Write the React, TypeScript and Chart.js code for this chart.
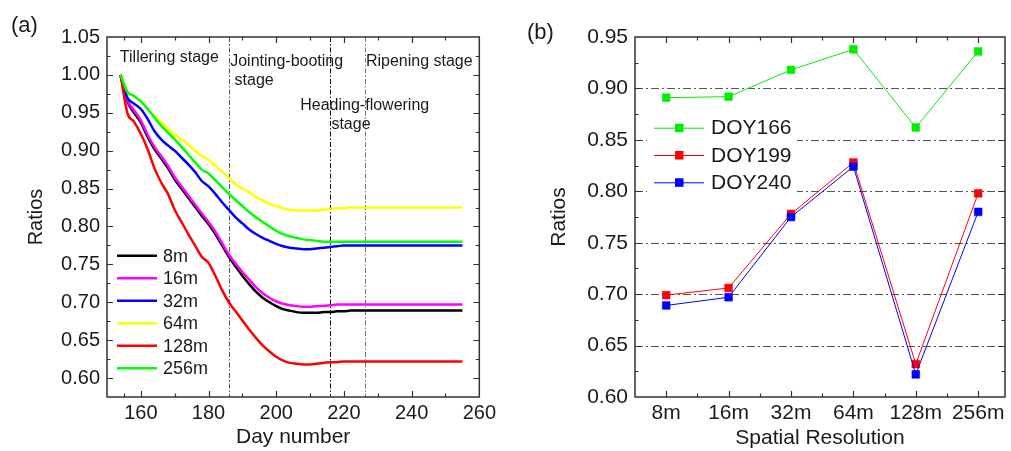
import React, { useEffect, useRef } from 'react';
import { Chart, registerables } from 'chart.js';

Chart.register(...registerables);

const FONT = "'Liberation Sans', Arial, Helvetica, sans-serif";
const INK = '#1a1a1a';

// ---------- Panel (a) data ----------
const dayNumbers = [154, 156, 158, 160, 162, 164, 166, 168, 170, 172, 174, 176, 178, 180, 182, 184, 186, 188, 190, 192, 194, 196, 198, 200, 202, 204, 206, 208, 210, 212, 214, 216, 218, 220, 222, 226, 235, 245, 255];
const ratio8m = [1.0, 0.965, 0.95, 0.937, 0.918, 0.902, 0.89, 0.877, 0.862, 0.85, 0.838, 0.826, 0.814, 0.803, 0.79, 0.775, 0.76, 0.747, 0.735, 0.724, 0.714, 0.706, 0.7, 0.695, 0.691, 0.689, 0.687, 0.686, 0.686, 0.686, 0.687, 0.687, 0.688, 0.688, 0.689, 0.689, 0.689, 0.689, 0.689];
const ratio16m = [1.0, 0.967, 0.953, 0.94, 0.921, 0.905, 0.893, 0.88, 0.865, 0.853, 0.841, 0.829, 0.817, 0.806, 0.793, 0.778, 0.763, 0.751, 0.74, 0.73, 0.72, 0.712, 0.706, 0.701, 0.698, 0.696, 0.695, 0.694, 0.694, 0.695, 0.695, 0.696, 0.697, 0.697, 0.697, 0.697, 0.697, 0.697, 0.697];
const ratio32m = [1.0, 0.97, 0.962, 0.955, 0.942, 0.926, 0.915, 0.907, 0.9, 0.891, 0.882, 0.872, 0.86, 0.853, 0.843, 0.832, 0.822, 0.812, 0.804, 0.796, 0.79, 0.785, 0.781, 0.777, 0.774, 0.772, 0.771, 0.77, 0.77, 0.771, 0.772, 0.773, 0.774, 0.775, 0.775, 0.775, 0.775, 0.775, 0.775];
const ratio64m = [1.0, 0.978, 0.972, 0.965, 0.955, 0.946, 0.937, 0.929, 0.921, 0.915, 0.908, 0.9, 0.893, 0.888, 0.88, 0.872, 0.864, 0.856, 0.85, 0.845, 0.839, 0.834, 0.83, 0.827, 0.824, 0.822, 0.821, 0.821, 0.821, 0.821, 0.822, 0.823, 0.824, 0.824, 0.825, 0.825, 0.825, 0.825, 0.825];
const ratio128m = [1.0, 0.95, 0.938, 0.922, 0.902, 0.877, 0.858, 0.843, 0.822, 0.806, 0.79, 0.775, 0.76, 0.752, 0.735, 0.716, 0.7, 0.688, 0.676, 0.664, 0.653, 0.643, 0.635, 0.628, 0.623, 0.62, 0.619, 0.618, 0.618, 0.619, 0.62, 0.621, 0.621, 0.622, 0.622, 0.622, 0.622, 0.622, 0.622];
const ratio256m = [1.0, 0.978, 0.972, 0.965, 0.955, 0.944, 0.933, 0.924, 0.915, 0.905, 0.895, 0.885, 0.875, 0.87, 0.861, 0.852, 0.843, 0.835, 0.827, 0.819, 0.812, 0.806, 0.8, 0.794, 0.79, 0.787, 0.785, 0.783, 0.782, 0.781, 0.78, 0.78, 0.78, 0.78, 0.78, 0.78, 0.78, 0.78, 0.78];

const seriesNamesA = ['8m', '16m', '32m', '64m', '128m', '256m'];
const seriesValuesA = [ratio8m, ratio16m, ratio32m, ratio64m, ratio128m, ratio256m];
const seriesColorsA = ['#000000', '#ff00ff', '#0000ff', '#ffff00', '#ff0000', '#00ff00'];

const xTicksA = [160, 180, 200, 220, 240, 260];
const yTicksA = [0.6, 0.65, 0.7, 0.75, 0.8, 0.85, 0.9, 0.95, 1.0, 1.05];
const stageBoundaryDays = [186, 216, 226.3];
const stageBoundaryColors = ['#555555', '#111111', '#777777'];
const stageTexts = ['Tillering stage', 'Jointing-booting', 'stage', 'Heading-flowering', 'stage', 'Ripening stage'];
const stageTextDays = [153.8, 186.4, 187.7, 207.1, 216.3, 226.5];
const stageTextRatios = [1.023, 1.017, 0.993, 0.96, 0.935, 1.017];

// ---------- Panel (b) data ----------
const resolutions = ['8m', '16m', '32m', '64m', '128m', '256m'];
const doy166 = [0.891, 0.892, 0.918, 0.938, 0.862, 0.936];
const doy199 = [0.699, 0.706, 0.778, 0.828, 0.632, 0.798];
const doy240 = [0.689, 0.697, 0.775, 0.824, 0.622, 0.78];
const seriesNamesB = ['DOY166', 'DOY199', 'DOY240'];
const seriesValuesB = [doy166, doy199, doy240];
const seriesColorsB = ['#00ee00', '#ff0000', '#0000ff'];
const yTicksB = [0.6, 0.65, 0.7, 0.75, 0.8, 0.85, 0.9, 0.95];
const gridValuesB = [0.65, 0.7, 0.75, 0.8, 0.85, 0.9];

const mids = (arr: number[]) => arr.slice(0, -1).map((v, i) => (v + arr[i + 1]) / 2);

function drawFrameAndTicks(chart: any, xMajor: number[], xMinor: number[], yMajor: number[], yMinor: number[]) {
  const { ctx, chartArea, scales } = chart;
  const { left, right, top, bottom } = chartArea;
  const x = scales.x;
  const y = scales.y;
  ctx.save();
  ctx.strokeStyle = '#333';
  ctx.lineWidth = 1.2;
  const tick = (px: number, len: number, horiz: boolean) => {
    const p = Math.round(px) + 0.5;
    ctx.beginPath();
    if (horiz) {
      ctx.moveTo(p, bottom); ctx.lineTo(p, bottom - len);
      ctx.moveTo(p, top); ctx.lineTo(p, top + len);
    } else {
      ctx.moveTo(left, p); ctx.lineTo(left + len, p);
      ctx.moveTo(right, p); ctx.lineTo(right - len, p);
    }
    ctx.stroke();
  };
  xMajor.forEach((v) => { const p = x.getPixelForValue(v); if (p > left + 1 && p < right - 1) tick(p, 6, true); });
  xMinor.forEach((v) => { const p = x.getPixelForValue(v); if (p > left + 1 && p < right - 1) tick(p, 3.5, true); });
  yMajor.forEach((v) => { const p = y.getPixelForValue(v); if (p > top + 1 && p < bottom - 1) tick(p, 6, false); });
  yMinor.forEach((v) => { const p = y.getPixelForValue(v); if (p > top + 1 && p < bottom - 1) tick(p, 3.5, false); });
  ctx.lineWidth = 1.5;
  ctx.strokeRect(left, top, right - left, bottom - top);
  ctx.restore();
}

const ChartA: React.FC = () => {
  const ref = useRef<HTMLCanvasElement>(null);
  useEffect(() => {
    if (!ref.current) return;
    const plugin = {
      id: 'panelA',
      beforeDatasetsDraw(chart: any) {
        const { ctx, chartArea, scales } = chart;
        ctx.save();
        ctx.lineWidth = 1;
        ctx.setLineDash([5, 2, 1.5, 2]);
        stageBoundaryDays.forEach((d, i) => {
          const p = Math.round(scales.x.getPixelForValue(d)) + 0.5;
          ctx.strokeStyle = stageBoundaryColors[i];
          ctx.beginPath();
          ctx.moveTo(p, chartArea.top);
          ctx.lineTo(p, chartArea.bottom);
          ctx.stroke();
        });
        ctx.restore();
      },
      afterDatasetsDraw(chart: any) {
        const { ctx, chartArea, scales } = chart;
        drawFrameAndTicks(chart, xTicksA, mids([150, ...xTicksA]), yTicksA, mids([0.55, ...yTicksA]));
        ctx.save();
        ctx.fillStyle = INK;
        ctx.textBaseline = 'middle';
        ctx.textAlign = 'left';
        ctx.font = `16px ${FONT}`;
        stageTexts.forEach((t, i) => {
          ctx.fillText(t, scales.x.getPixelForValue(stageTextDays[i]), scales.y.getPixelForValue(stageTextRatios[i]));
        });
        // legend
        ctx.font = `18px ${FONT}`;
        seriesNamesA.forEach((name, i) => {
          const yy = chartArea.top + 218.7 + i * 22.5;
          const x0 = chartArea.left + 10;
          ctx.strokeStyle = seriesColorsA[i];
          ctx.lineWidth = 2.5;
          ctx.beginPath();
          ctx.moveTo(x0, yy);
          ctx.lineTo(x0 + 40, yy);
          ctx.stroke();
          ctx.fillText(name, x0 + 46, yy + 1);
        });
        ctx.restore();
      },
    };
    const chart = new Chart(ref.current, {
      type: 'line',
      data: {
        datasets: seriesValuesA.map((vals, i) => ({
          label: seriesNamesA[i],
          data: dayNumbers.map((d, j) => ({ x: d, y: vals[j] })),
          borderColor: seriesColorsA[i],
          backgroundColor: seriesColorsA[i],
          borderWidth: 2.5,
          pointRadius: 0,
          cubicInterpolationMode: 'monotone' as const,
          fill: false,
          order: 6 - i,
        })),
      },
      options: {
        animation: false,
        responsive: false,
        layout: { padding: { top: 37, right: 15, left: 0, bottom: 0 } },
        plugins: { legend: { display: false }, tooltip: { enabled: false } },
        scales: {
          x: {
            type: 'linear',
            min: 150,
            max: 260,
            afterBuildTicks: (s: any) => { s.ticks = xTicksA.map((v) => ({ value: v })); },
            afterFit: (s: any) => { s.height = 54; },
            grid: { display: false, drawTicks: false },
            border: { display: false },
            ticks: { color: INK, font: { family: FONT, size: 20 }, padding: 4, autoSkip: false, maxRotation: 0, callback: (v: any) => String(v) },
            title: { display: true, text: 'Day number', color: INK, font: { family: FONT, size: 21 }, padding: { top: 0, bottom: 1.4 } },
          },
          y: {
            type: 'linear',
            min: 0.575,
            max: 1.05,
            afterBuildTicks: (s: any) => { s.ticks = yTicksA.map((v) => ({ value: v })); },
            afterFit: (s: any) => { s.width = 107; },
            grid: { display: false, drawTicks: false },
            border: { display: false },
            ticks: { color: INK, font: { family: FONT, size: 20 }, padding: 7, callback: (v: any) => Number(v).toFixed(2) },
            title: { display: true, text: 'Ratios', color: INK, font: { family: FONT, size: 20 }, padding: { top: 24, bottom: 0 } },
          },
        },
      },
      plugins: [plugin],
    } as any);
    return () => chart.destroy();
  }, []);
  return <canvas ref={ref} width={500} height={451} style={{ position: 'absolute', left: 0, top: 0 }} />;
};

const ChartB: React.FC = () => {
  const ref = useRef<HTMLCanvasElement>(null);
  useEffect(() => {
    if (!ref.current) return;
    const xIdx = resolutions.map((_, i) => i + 1);
    const plugin = {
      id: 'panelB',
      beforeDatasetsDraw(chart: any) {
        const { ctx, chartArea, scales } = chart;
        ctx.save();
        ctx.strokeStyle = '#555';
        ctx.lineWidth = 1;
        ctx.setLineDash([8, 3, 2, 3]);
        gridValuesB.forEach((v) => {
          const p = Math.round(scales.y.getPixelForValue(v)) + 0.5;
          ctx.beginPath();
          ctx.moveTo(chartArea.left, p);
          ctx.lineTo(chartArea.right, p);
          ctx.stroke();
        });
        ctx.restore();
        // legend background
        ctx.save();
        ctx.fillStyle = '#ffffff';
        ctx.fillRect(chartArea.left + 12, chartArea.top + 75, 150, 88);
        ctx.restore();
      },
      afterDatasetsDraw(chart: any) {
        const { ctx, chartArea } = chart;
        drawFrameAndTicks(chart, xIdx, mids([0, ...xIdx]), yTicksB, mids(yTicksB));
        ctx.save();
        ctx.font = `21px ${FONT}`;
        ctx.textBaseline = 'middle';
        ctx.textAlign = 'left';
        seriesNamesB.forEach((name, i) => {
          const yy = chartArea.top + 90.7 + i * 27.3;
          const x0 = chartArea.left + 19;
          ctx.strokeStyle = seriesColorsB[i];
          ctx.lineWidth = 1;
          ctx.beginPath();
          ctx.moveTo(x0, yy + 0.5);
          ctx.lineTo(x0 + 50, yy + 0.5);
          ctx.stroke();
          ctx.fillStyle = seriesColorsB[i];
          ctx.fillRect(x0 + 25 - 4, yy - 4, 8.5, 8.5);
          ctx.fillStyle = INK;
          ctx.fillText(name, x0 + 57, yy + 1);
        });
        ctx.restore();
      },
    };
    const chart = new Chart(ref.current, {
      type: 'line',
      data: {
        datasets: seriesValuesB.map((vals, i) => ({
          label: seriesNamesB[i],
          data: vals.map((v, j) => ({ x: j + 1, y: v })),
          borderColor: seriesColorsB[i],
          backgroundColor: seriesColorsB[i],
          pointBackgroundColor: seriesColorsB[i],
          pointBorderColor: seriesColorsB[i],
          borderWidth: 1,
          pointStyle: 'rect',
          pointRadius: 5.5,
          pointBorderWidth: 0.5,
          tension: 0,
          fill: false,
          order: 3 - i,
        })),
      },
      options: {
        animation: false,
        responsive: false,
        layout: { padding: { top: 37, right: 2, left: 0, bottom: 0 } },
        plugins: { legend: { display: false }, tooltip: { enabled: false } },
        scales: {
          x: {
            type: 'linear',
            min: 0.5,
            max: 6.43,
            afterBuildTicks: (s: any) => { s.ticks = xIdx.map((v) => ({ value: v })); },
            afterFit: (s: any) => { s.height = 54; },
            grid: { display: false, drawTicks: false },
            border: { display: false },
            ticks: { color: INK, font: { family: FONT, size: 21 }, padding: 4, autoSkip: false, maxRotation: 0, callback: (v: any) => resolutions[Math.round(Number(v)) - 1] },
            title: { display: true, text: 'Spatial Resolution', color: INK, font: { family: FONT, size: 21 }, padding: { top: 0, bottom: 0 } },
          },
          y: {
            type: 'linear',
            min: 0.6,
            max: 0.95,
            afterBuildTicks: (s: any) => { s.ticks = yTicksB.map((v) => ({ value: v })); },
            afterFit: (s: any) => { s.width = 135; },
            grid: { display: false, drawTicks: false },
            border: { display: false },
            ticks: { color: INK, font: { family: FONT, size: 21 }, padding: 7, callback: (v: any) => Number(v).toFixed(2) },
            title: { display: true, text: 'Ratios', color: INK, font: { family: FONT, size: 21 }, padding: { top: 47, bottom: 0 } },
          },
        },
      },
      plugins: [plugin],
    } as any);
    return () => chart.destroy();
  }, []);
  return <canvas ref={ref} width={511} height={451} style={{ position: 'absolute', left: 500, top: 0 }} />;
};

const labelStyle: React.CSSProperties = { position: 'absolute', fontFamily: FONT, fontSize: 22, color: INK, lineHeight: '24px' };

export default function App() {
  return (
    <div style={{ position: 'fixed', left: 0, top: 0, width: 1011, height: 451, background: '#fff', overflow: 'hidden' }}>
      <ChartA />
      <ChartB />
      <div style={{ ...labelStyle, left: 11, top: 13 }}>(a)</div>
      <div style={{ ...labelStyle, left: 527, top: 20 }}>(b)</div>
    </div>
  );
}
